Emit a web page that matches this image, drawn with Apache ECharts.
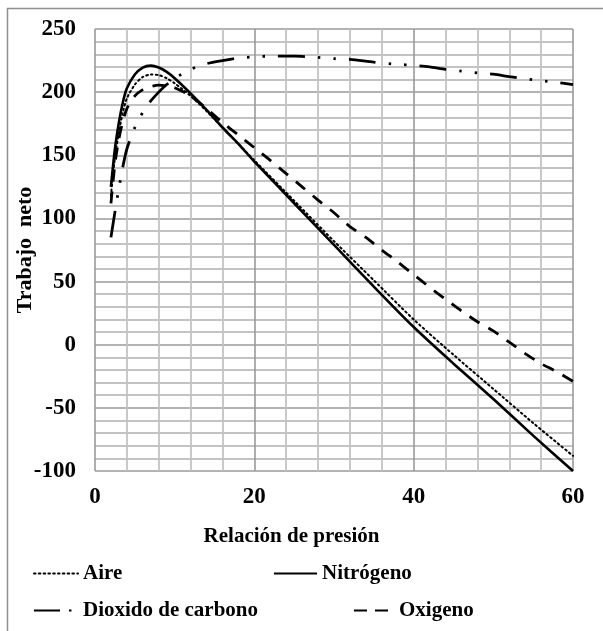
<!DOCTYPE html>
<html>
<head>
<meta charset="utf-8">
<script src="https://cdn.jsdelivr.net/npm/echarts@6/dist/echarts.min.js"></script>
<style>
  html, body { margin: 0; padding: 0; background: #fff; }
  #chart { width: 603px; height: 631px; }
</style>
</head>
<body>
<div id="chart"></div>
<script>
// Trabajo neto del ciclo frente a la relación de presión, para cuatro gases.
const seriesNames = ['Aire', 'Nitrógeno', 'Dioxido de carbono', 'Oxigeno'];

const aireRp = [2, 2.5, 3, 3.5, 4, 5, 6, 7, 8, 9, 10, 12, 14, 16, 18, 20, 25, 30, 35, 40, 45, 50, 55, 60];
const aireW  = [118, 148, 168, 184, 195, 206, 212, 214, 213.5, 211, 207, 197, 185, 172, 159, 146, 114, 82, 51, 20, -8, -35, -62, -88];

const nitrogenoRp = [2, 2.5, 3, 3.5, 4, 5, 6, 7, 8, 9, 10, 12, 14, 16, 18, 20, 25, 30, 35, 40, 45, 50, 55, 60];
const nitrogenoW  = [125, 155, 176, 192, 203, 214, 219.5, 221, 219.5, 216, 211, 199, 186, 172, 159, 145, 112, 79, 46, 14, -15, -43, -72, -100];

const co2Rp = [2, 2.5, 3, 3.5, 4, 5, 6, 7, 8, 9, 10, 12, 14, 16, 18, 20, 22, 25, 28, 30, 32, 35, 38, 40, 42, 44, 46, 48, 50, 52, 54, 56, 58, 60];
const co2W  = [85, 105, 124, 141, 155, 172, 184, 193, 200, 206, 211, 218, 222.5, 225, 227, 228, 228.5, 228.5, 227.5, 226.5, 226, 223.7, 222, 221.3, 220, 218, 216.7, 215.3, 214.2, 212.3, 210.5, 209, 207.7, 206];

const oxigenoRp = [2, 2.5, 3, 3.5, 4, 5, 6, 7, 8, 9, 10, 12, 14, 16, 18, 20, 22, 24, 26, 28, 30, 32, 34, 36, 38, 40, 42, 44, 46, 48, 50, 52, 54, 56, 58, 60];
const oxigenoW  = [112, 143, 163, 177, 187, 197, 202, 204.5, 205.5, 205, 203.5, 197, 187, 176, 166, 156, 146, 135.5, 125, 114.5, 104.5, 93.5, 85, 75, 65.5, 55.5, 45.5, 36, 26.8, 18.2, 11, 2, -7, -15, -21.5, -29];

const xTicks = { min: 0, max: 60, interval: 20 };
const yTicks = { min: -100, max: 250, interval: 50 };

const zip = (xs, ys) => xs.map((x, i) => [x, ys[i]]);

const serif = '"Liberation Serif", "Times New Roman", serif';
const textBase = { fontFamily: serif, fontWeight: 'bold', color: '#000' };

const styles = [
  { width: 2, type: [1.6, 3.2], cap: 'round' },          // Aire: punteada
  { width: 2.6, type: 'solid' },                          // Nitrógeno: continua
  { width: 2.8, type: [27, 13, 2.5, 13, 2.5, 13] },       // CO2: raya-punto-punto
  { width: 2.8, type: [12, 10] }                          // Oxigeno: discontinua
];

const datasets = [zip(aireRp, aireW), zip(nitrogenoRp, nitrogenoW), zip(co2Rp, co2W), zip(oxigenoRp, oxigenoW)];

const series = seriesNames.map((name, i) => ({
  name,
  type: 'line',
  data: datasets[i],
  smooth: 0.25,
  showSymbol: false,
  symbol: 'none',
  lineStyle: Object.assign({ color: '#000' }, styles[i]),
  itemStyle: { color: '#000' },
  z: 3
}));

const legendAt = (name, left, top, width, lineType) => ({
  data: [name],
  left, top,
  padding: 0,
  orient: 'horizontal',
  itemWidth: width,
  itemHeight: 14,
  itemStyle: { opacity: 0, borderWidth: 0 },
  lineStyle: lineType ? { type: lineType } : {},
  textStyle: Object.assign({ fontSize: 21 }, textBase),
  selectedMode: false
});

const chart = echarts.init(document.getElementById('chart'), null, { renderer: 'canvas' });
chart.setOption({
  animation: false,
  backgroundColor: '#fff',
  grid: { left: 95, right: 30, top: 29, bottom: 160, containLabel: false, outerBoundsMode: 'none' },
  xAxis: {
    type: 'value',
    min: xTicks.min, max: xTicks.max, interval: xTicks.interval,
    name: 'Relación de presión',
    nameLocation: 'middle',
    nameGap: 55,
    nameTextStyle: Object.assign({ fontSize: 21, padding: [0, 85, 0, 0] }, textBase),
    axisLine: { show: false },
    axisTick: { show: false },
    axisLabel: Object.assign({ fontSize: 23, margin: 15 }, textBase),
    splitLine: { show: true, lineStyle: { color: '#9a9a9a', width: 1.6 } },
    minorTick: { show: false, splitNumber: 5 },
    minorSplitLine: { show: true, lineStyle: { color: '#c3c3c3', width: 1.8 } }
  },
  yAxis: {
    type: 'value',
    min: yTicks.min, max: yTicks.max, interval: yTicks.interval,
    name: 'Trabajo  neto',
    nameLocation: 'middle',
    nameGap: 59,
    nameMoveOverlap: false,
    nameRotate: 90,
    nameTextStyle: Object.assign({ fontSize: 22 }, textBase),
    axisLine: { show: false },
    axisTick: { show: false },
    axisLabel: Object.assign({ fontSize: 23, margin: 19 }, textBase),
    splitLine: { show: true, lineStyle: { color: '#9a9a9a', width: 1.6 } },
    minorTick: { show: false, splitNumber: 5 },
    minorSplitLine: { show: true, lineStyle: { color: '#c3c3c3', width: 1.8 } }
  },
  legend: [
    legendAt('Aire', 33, 563, 44),
    legendAt('Nitrógeno', 273, 563, 43),
    legendAt('Dioxido de carbono', 33, 600, 44, [26, 9, 2.5, 20]),
    legendAt('Oxigeno', 353, 600, 40, [13, 8, 13, 20])
  ],
  graphic: [{
    type: 'rect',
    shape: { x: 7.5, y: 8.5, width: 610, height: 640 },
    style: { fill: 'none', stroke: '#8f8f8f', lineWidth: 1.5 },
    silent: true
  }],
  series
});
</script>
</body>
</html>
